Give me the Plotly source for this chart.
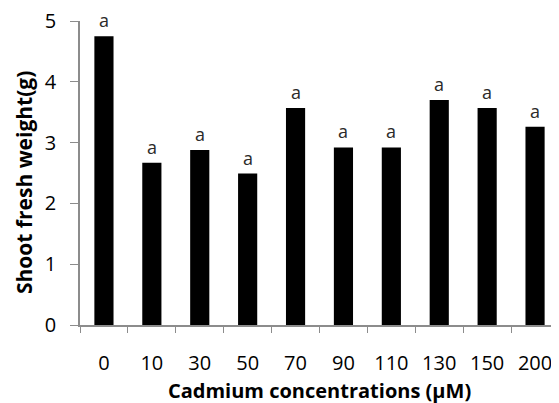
import plotly.graph_objects as go

categories = ["0", "10", "30", "50", "70", "90", "110", "130", "150", "200"]
values = [4.75, 2.67, 2.88, 2.49, 3.57, 2.92, 2.92, 3.70, 3.57, 3.26]
letters = ["a"] * len(categories)
y_ticks = [0, 1, 2, 3, 4, 5]

FONT = "Open Sans"
AXIS_COLOR = "#8c8c8c"

fig = go.Figure()
fig.add_trace(go.Bar(
    x=categories, y=values,
    marker=dict(color="black", line=dict(width=0)),
    width=0.4,
))

annotations = []
for i, (v, t) in enumerate(zip(values, letters)):
    annotations.append(dict(
        x=i, y=v, xref="x", yref="y", text=t, showarrow=False,
        yanchor="bottom", yshift=2,
        font=dict(family=FONT, size=18, color="#2a2a2a"),
    ))
annotations.append(dict(
    text="<b>Shoot fresh weight(g)</b>", textangle=-90,
    xref="paper", yref="paper", x=-0.117, y=0.47,
    xanchor="center", yanchor="middle", showarrow=False,
    font=dict(family=FONT, size=21, color="black"),
))
annotations.append(dict(
    text="<b>Cadmium concentrations (μM)</b>",
    xref="paper", yref="paper", x=0.50, y=-0.214,
    xanchor="center", yanchor="middle", showarrow=False,
    font=dict(family=FONT, size=20, color="black"),
))

fig.update_layout(
    width=551, height=395,
    margin=dict(l=72, r=0, t=13, b=78, autoexpand=False),
    plot_bgcolor="white", paper_bgcolor="white",
    showlegend=False,
    font=dict(family=FONT, color="black"),
    xaxis=dict(
        type="category", range=[-0.5, 9.5],
        showline=True, linecolor=AXIS_COLOR, linewidth=1.5,
        ticks="outside", ticklen=6, tickcolor=AXIS_COLOR, tickson="boundaries",
        tickfont=dict(family=FONT, size=20, color="black"), tickangle=0,
        automargin=False, ticklabelstandoff=19, ticklabeloverflow="allow",
    ),
    yaxis=dict(
        range=[0, 5], tickvals=y_ticks, showgrid=False, zeroline=False,
        showline=True, linecolor=AXIS_COLOR, linewidth=1.5,
        ticks="outside", ticklen=8, tickcolor=AXIS_COLOR,
        tickfont=dict(family=FONT, size=20, color="black"),
        automargin=False, ticklabelstandoff=10, ticklabeloverflow="allow",
    ),
    annotations=annotations,
)

fig.write_html("out.html")
